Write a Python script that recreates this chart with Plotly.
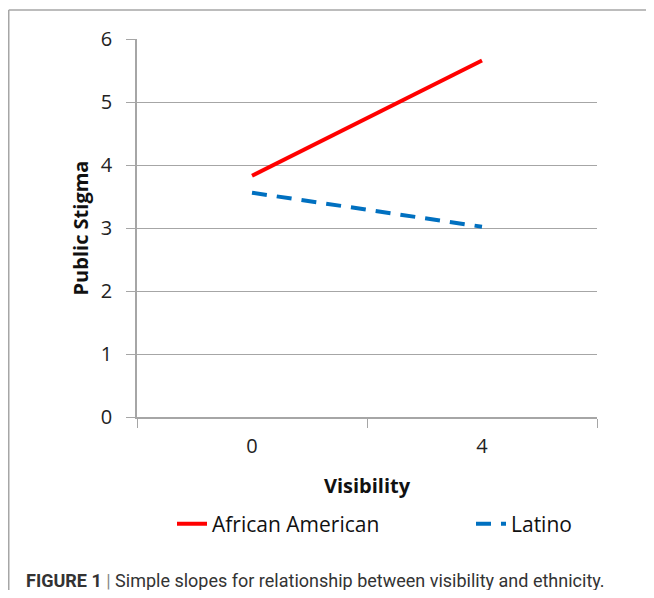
import plotly.graph_objects as go

categories = ["0", "4"]
african_american = [3.83, 5.66]
latino = [3.56, 3.02]
y_ticks = [0, 1, 2, 3, 4, 5, 6]

# page has an 8px body margin; figure coordinates = page coordinates - 8
OFF = 8
W, H = 638, 582
PX0, PX1 = 137 - OFF, 597 - OFF   # plot area left/right (figure px)
PY0, PY1 = 39 - OFF, 417 - OFF    # plot area top/bottom (figure px)
L, R, T, B = PX0, W - PX1, PY0, H - PY1
pw, ph = PX1 - PX0, PY1 - PY0


def px_x(page_x):
    return (page_x - OFF - PX0) / pw


def px_y(page_y):
    return (PY1 - (page_y - OFF)) / ph


fig = go.Figure()
fig.add_trace(go.Scatter(
    x=categories, y=african_american, mode="lines", name="African American",
    line=dict(color="#ff0000", width=4), legend="legend"))
fig.add_trace(go.Scatter(
    x=categories, y=latino, mode="lines", name="Latino",
    line=dict(color="#0070c0", width=4, dash="15px,10px"), legend="legend2"))

grey = "#a6a6a6"
leg_font = dict(size=21, color="#111111", family="Open Sans")
fig.update_layout(
    width=W, height=H,
    margin=dict(l=L, r=R, t=T, b=B),
    paper_bgcolor="white", plot_bgcolor="white",
    font=dict(family="Open Sans", color="#222222"),
    showlegend=True,
    legend=dict(orientation="h", x=px_x(172), xanchor="left", y=px_y(524), yanchor="middle",
                font=leg_font, bgcolor="rgba(0,0,0,0)"),
    legend2=dict(orientation="h", x=px_x(471), xanchor="left", y=px_y(524), yanchor="middle",
                 font=leg_font, bgcolor="rgba(0,0,0,0)"),
    xaxis=dict(type="category", tickson="boundaries", ticks="outside", ticklen=9,
               tickcolor=grey, showline=True, linecolor=grey, linewidth=1.5,
               showgrid=False, tickfont=dict(size=20, color="#222222"),
               ticklabelstandoff=10, range=[-0.5, 1.5],
               title=dict(text="<b>Visibility</b>", font=dict(size=20, color="#111111"),
                          standoff=21)),
    yaxis=dict(range=[0, 6], tickvals=y_ticks, ticks="outside", ticklen=9,
               tickcolor=grey, showline=True, linecolor=grey, linewidth=1.5,
               showgrid=True, gridcolor=grey, gridwidth=1.2, zeroline=False,
               tickfont=dict(size=20, color="#222222"), ticklabelstandoff=10,
               title=dict(text="<b>Public Stigma</b>", font=dict(size=20, color="#111111"),
                          standoff=7)),
    shapes=[
        dict(type="line", xref="paper", yref="paper", x0=px_x(8.75), x1=px_x(700),
             y0=px_y(10), y1=px_y(10), line=dict(color=grey, width=1.5)),
        dict(type="line", xref="paper", yref="paper", x0=px_x(8.75), x1=px_x(8.75),
             y0=px_y(10), y1=px_y(700), line=dict(color=grey, width=1.5)),
    ],
    annotations=[
        dict(xref="paper", yref="paper", x=px_x(24), y=px_y(580), xanchor="left",
             yanchor="middle", showarrow=False,
             text="<b>FIGURE 1</b> <span style='color:#888888'>|</span> Simple slopes for relationship between visibility and ethnicity.",
             font=dict(family="Roboto", size=18, color="#333333")),
    ],
)

fig.write_html("out.html")
